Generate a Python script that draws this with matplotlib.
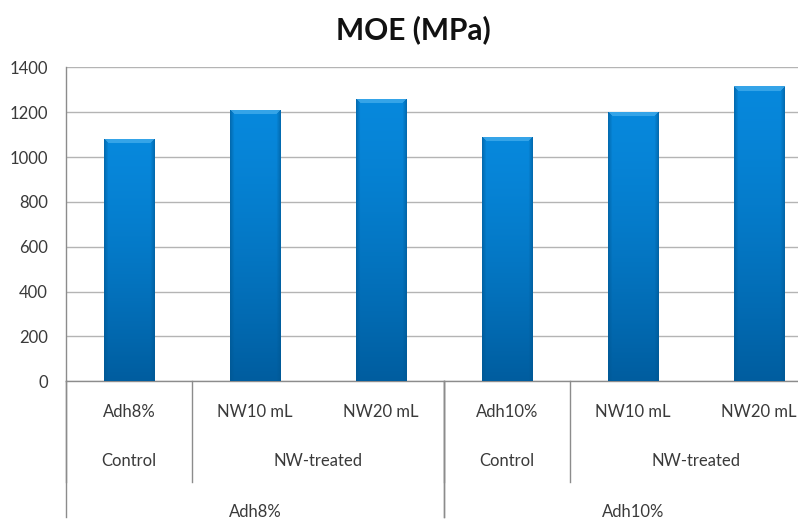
import numpy as np
import matplotlib.pyplot as plt
from matplotlib.colors import to_rgb

plt.rcParams['font.family'] = ['Lato', 'DejaVu Sans']

# valores de MOE por tratamento
tratamentos = ['Adh8%', 'NW10 mL', 'NW20 mL', 'Adh10%', 'NW10 mL', 'NW20 mL']
moe = [1080, 1210, 1260, 1090, 1200, 1315]

# agrupamentos do eixo x (rotulo, indice inicial, indice final)
grupos_tipo = [('Control', 0, 0), ('NW-treated', 1, 2), ('Control', 3, 3), ('NW-treated', 4, 5)]
grupos_adesivo = [('Adh8%', 0, 2), ('Adh10%', 3, 5)]

fig = plt.figure(figsize=(7.98, 5.22), dpi=100)
ax = fig.add_axes([66 / 798, (522 - 381.3) / 522, 756 / 798, 314 / 522])

x = np.arange(len(moe))
barras = ax.bar(x, moe, width=0.4, color='#0479c8', zorder=2)

ax.set_xlim(-0.5, 5.5)
ax.set_ylim(0, 1400)
ax.set_yticks(range(0, 1401, 200))
ax.set_xticks([])
ax.yaxis.grid(True, color='#b4b4b4', lw=1, zorder=0)
ax.set_axisbelow(True)
for s in ['top', 'right']:
    ax.spines[s].set_visible(False)
for s in ['left', 'bottom']:
    ax.spines[s].set_color('#8c8c8c')
    ax.spines[s].set_linewidth(1)
ax.tick_params(axis='y', length=0, pad=13, labelsize=12, labelcolor='#3a3a3a')

# gradiente tipo bisel em cada barra
topo = np.array(to_rgb('#0788dc'))
base = np.array(to_rgb('#005d9f'))
brilho = np.array(to_rgb('#4fb4f0'))
lado = np.array(to_rgb('#00558f'))
fig.canvas.draw()
for b in barras:
    x0, y0, w, h = b.get_x(), b.get_y(), b.get_width(), b.get_height()
    p0 = ax.transData.transform((x0, y0))
    p1 = ax.transData.transform((x0 + w, y0 + h))
    nc = max(int(p1[0] - p0[0]), 2)
    nr = max(int(p1[1] - p0[1]), 2)
    t = np.linspace(0, 1, nr)[:, None, None] ** 1.4
    img = topo * (1 - t) + base * t
    img = np.repeat(img, nc, axis=1)
    col = np.arange(nc)
    borda = np.minimum(col, nc - 1 - col)
    peso = np.clip(1 - borda / 4.0, 0, 1)[None, :, None] * 0.55
    img = img * (1 - peso) + lado * peso
    row = np.arange(nr)[:, None]
    bisel = (row < 5) & (col[None, :] >= row) & (col[None, :] <= nc - 1 - row)
    img[bisel] = img[bisel] * 0.35 + brilho * 0.65
    im = ax.imshow(img, extent=(x0, x0 + w, y0, y0 + h), aspect='auto',
                   origin='upper', zorder=3, interpolation='bilinear')
    im.set_clip_path(b)
    b.set_edgecolor('#0a5f9a')
    b.set_linewidth(0.6)

# rotulos hierarquicos do eixo x
cor_txt = '#3a3a3a'
trans = ax.get_xaxis_transform()
for i, nome in enumerate(tratamentos):
    ax.text(i, -0.098, nome, transform=trans, ha='center', va='center',
            fontsize=12, color=cor_txt)
for nome, a, b in grupos_tipo:
    ax.text((a + b) / 2, -0.254, nome, transform=trans, ha='center', va='center',
            fontsize=12, color=cor_txt)
for nome, a, b in grupos_adesivo:
    ax.text((a + b) / 2, -0.416, nome, transform=trans, ha='center', va='center',
            fontsize=12, color=cor_txt)

for nome, a, b in grupos_tipo:
    ax.plot([a - 0.5, a - 0.5], [0, -0.32], transform=trans, color='#8c8c8c',
            lw=1, clip_on=False)
for nome, a, b in grupos_adesivo:
    ax.plot([a - 0.5, a - 0.5], [0, -0.432], transform=trans, color='#8c8c8c',
            lw=1, clip_on=False)
    ax.plot([b + 0.5, b + 0.5], [0, -0.432], transform=trans, color='#8c8c8c',
            lw=1, clip_on=False)

fig.text(0.518, 1 - 30 / 522, 'MOE (MPa)', ha='center', va='center',
         fontsize=21.5, fontweight='bold', color='#111111')

fig.savefig('out.png', dpi=100)
